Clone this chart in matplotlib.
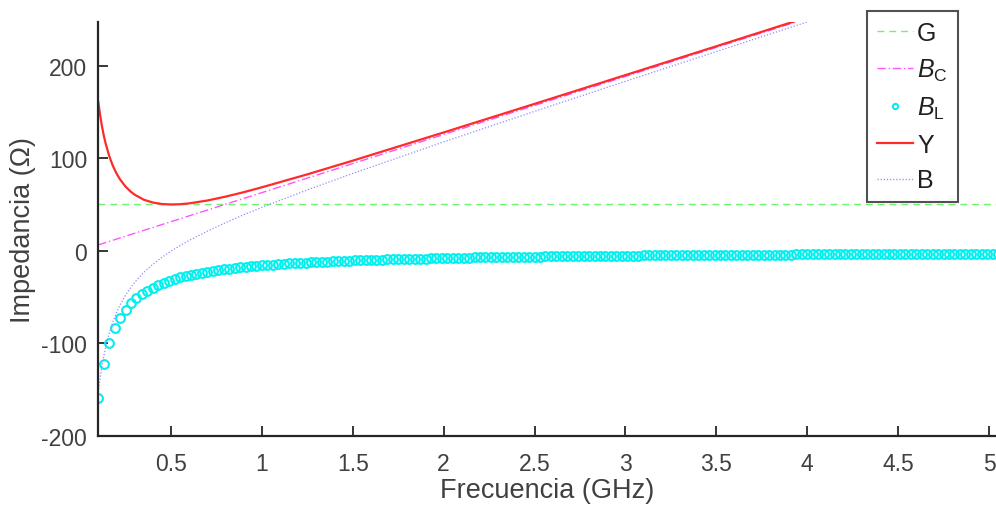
import numpy as np
import matplotlib
matplotlib.use("Agg")
import matplotlib.pyplot as plt

plt.rcParams['font.family'] = ['Liberation Sans', 'DejaVu Sans']
plt.rcParams['mathtext.fontset'] = 'custom'
plt.rcParams['mathtext.rm'] = 'Liberation Sans'
plt.rcParams['mathtext.it'] = 'Liberation Sans:italic'

# ---- data ----
g_freq = [0.1, 5.05]
g_vals = [50, 50]

bc_freq = [0.1, 4.0]
bc_vals = [6.3, 251.3]

line_freq = [0.1, 0.11, 0.12, 0.13, 0.14, 0.16, 0.18, 0.2, 0.22, 0.25, 0.28, 0.3,
             0.35, 0.4, 0.45, 0.5, 0.55, 0.6, 0.7, 0.8, 0.9, 1.0, 1.25, 1.5,
             2.0, 2.5, 3.0, 3.5, 4.0]
y_vals = [160.8, 146.6, 134.7, 124.7, 116.2, 102.4, 91.9, 83.6, 77.0, 69.3, 63.6, 60.6,
          55.2, 52.1, 50.5, 50.0, 50.3, 51.2, 54.3, 58.5, 63.3, 68.6, 82.6, 97.4,
          127.9, 158.8, 189.9, 221.1, 252.4]
b_vals = [-152.9, -137.8, -125.1, -114.3, -104.9, -89.4, -77.1, -67.0, -58.5, -48.0, -39.3, -34.2,
          -23.5, -14.7, -7.1, -0.4, 5.6, 11.2, 21.2, 30.4, 38.9, 46.9, 65.8, 83.6,
          117.7, 150.7, 183.2, 215.4, 247.4]

bl_start, bl_step = 0.1, 0.03
bl_vals = [-159.2, -122.4, -99.5, -83.8, -72.3, -63.7, -56.8, -51.3, -46.8, -43.0,
           -39.8, -37.0, -34.6, -32.5, -30.6, -28.9, -27.4, -26.1, -24.9, -23.8,
           -22.7, -21.8, -20.9, -20.1, -19.4, -18.7, -18.1, -17.5, -16.9, -16.4,
           -15.9, -15.5, -15.0, -14.6, -14.2, -13.8, -13.5, -13.2, -12.8, -12.5,
           -12.2, -12.0, -11.7, -11.4, -11.2, -11.0, -10.8, -10.5, -10.3, -10.1,
           -9.9, -9.8, -9.6, -9.4, -9.3, -9.1, -8.9, -8.8, -8.6, -8.5,
           -8.4, -8.2, -8.1, -8.0, -7.9, -7.8, -7.7, -7.5, -7.4, -7.3,
           -7.2, -7.1, -7.0, -6.9, -6.9, -6.8, -6.7, -6.6, -6.5, -6.4,
           -6.4, -6.3, -6.2, -6.1, -6.1, -6.0, -5.9, -5.9, -5.8, -5.7,
           -5.7, -5.6, -5.6, -5.5, -5.5, -5.4, -5.3, -5.3, -5.2, -5.2,
           -5.1, -5.1, -5.0, -5.0, -4.9, -4.9, -4.9, -4.8, -4.8, -4.7,
           -4.7, -4.6, -4.6, -4.6, -4.5, -4.5, -4.4, -4.4, -4.4, -4.3,
           -4.3, -4.3, -4.2, -4.2, -4.2, -4.1, -4.1, -4.1, -4.0, -4.0,
           -4.0, -3.9, -3.9, -3.9, -3.9, -3.8, -3.8, -3.8, -3.8, -3.7,
           -3.7, -3.7, -3.7, -3.6, -3.6, -3.6, -3.6, -3.5, -3.5, -3.5,
           -3.5, -3.4, -3.4, -3.4, -3.4, -3.4, -3.3, -3.3, -3.3, -3.3,
           -3.2, -3.2, -3.2, -3.2, -3.2, -3.2]
bl_freq = np.round(bl_start + bl_step * np.arange(len(bl_vals)), 3)

x_ticks = [0.5, 1, 1.5, 2, 2.5, 3, 3.5, 4, 4.5, 5]
x_ticklabels = ['0.5', '1', '1.5', '2', '2.5', '3', '3.5', '4', '4.5', '5']
y_ticks = [-200, -100, 0, 100, 200]
y_ticklabels = ['-200', '-100', '0', '100', '200']

# ---- figure ----
W, H = 996, 506
fig = plt.figure(figsize=(W / 100, H / 100), dpi=100)
ax = fig.add_axes([98.3 / W, (H - 436.7) / H, (W - 98.3) / W, (436.7 - 23.3) / H])

txt = '#404040'
ax.plot(g_freq, g_vals, linestyle=(0, (5, 3.5)), color='#6ef56e', lw=1.0, label='G')
ax.plot(bc_freq, bc_vals, linestyle=(0, (6, 2, 1, 2)), color='#ff55ff', lw=1.0,
        label=r'$B_{\mathrm{C}}$')
ax.plot(bl_freq, bl_vals, linestyle='none', marker='o', markersize=6.3,
        markerfacecolor='none', markeredgecolor='#00f0f0', markeredgewidth=1.5,
        label=r'$B_{\mathrm{L}}$')
ax.plot(line_freq, y_vals, '-', color='#ff2a2a', lw=1.6, label='Y')
ax.plot(line_freq, b_vals, linestyle=(0, (1, 1.5)), color='#8c8cff', lw=0.9, label='B')

px_per_ghz = (989 - 171) / 4.5
ax.set_xlim(0.1, 0.1 + (W - 98.3) / px_per_ghz)
ax.set_ylim(-200, 247)
ax.set_xticks(x_ticks)
ax.set_xticklabels(x_ticklabels)
ax.set_yticks(y_ticks)
ax.set_yticklabels(y_ticklabels)

for s in ['top', 'right']:
    ax.spines[s].set_visible(False)
for s in ['left', 'bottom']:
    ax.spines[s].set_color('#262626')
    ax.spines[s].set_linewidth(1.6)
ax.tick_params(direction='in', length=7, width=1.3, color='#262626',
               labelsize=16.5, labelcolor=txt)
ax.tick_params(axis='x', pad=12)
ax.tick_params(axis='y', pad=8)

ax.set_xlabel('Frecuencia (GHz)', fontsize=19.5, color=txt, labelpad=1)
ax.set_ylabel('Impedancia (Ω)', fontsize=19.5, color=txt, labelpad=4)

leg = fig.legend(loc='upper left', bbox_to_anchor=(867 / W, 1 - 12 / H),
                 fontsize=18, frameon=True, fancybox=False, edgecolor='#262626',
                 handlelength=1.45, handletextpad=0.15, labelspacing=0.47,
                 borderpad=0.4, borderaxespad=0, markerscale=0.6)
leg.get_frame().set_linewidth(1.5)
for t in leg.get_texts():
    t.set_color('#202020')

fig.savefig('out.png', dpi=100)
